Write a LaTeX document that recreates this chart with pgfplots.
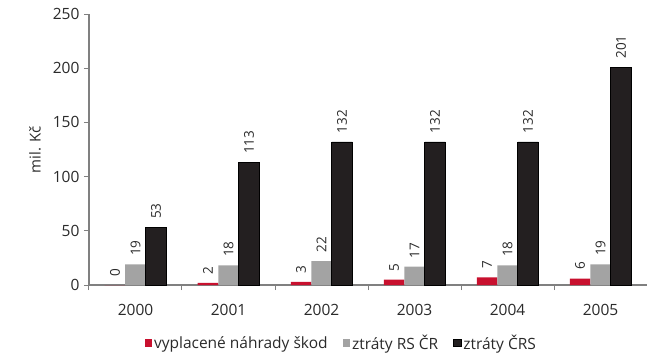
\documentclass[border=0pt]{standalone}
\usepackage{pgfplots}
\pgfplotsset{compat=1.18}
\usepackage{fontspec}
\setmainfont{Open Sans}
\definecolor{cred}{HTML}{C8102E}
\definecolor{cgray}{HTML}{A3A3A3}
\definecolor{cblack}{HTML}{231F20}
\definecolor{axgray}{HTML}{808080}
\definecolor{txt}{HTML}{2A2A2A}
\begin{document}
\begin{tikzpicture}[x=1pt,y=1pt]
\useasboundingbox (-89,-69) rectangle (558,285);
\begin{axis}[
  at={(0,0)}, anchor=south west,
  scale only axis, width=558pt, height=271pt,
  /pgf/number format/assume math mode=true,
  ybar=0pt, bar width=20.5pt,
  xmin=-0.5, xmax=5.5, ymin=0, ymax=250,
  axis x line*=bottom, axis y line*=left,
  axis line style={axgray, line width=1.2pt},
  xtick={0,...,5}, xticklabels={2000,2001,2002,2003,2004,2005},
  major x tick style={draw=none},
  minor xtick={-0.5,0.5,1.5,2.5,3.5,4.5,5.5},
  minor x tick style={axgray, line width=1pt},
  minor tick length=5pt,
  ytick={0,50,...,250},
  y tick style={axgray, line width=1pt},
  major tick length=5pt,
  tick align=outside,
  tick label style={font=\fontsize{15.5}{17}\selectfont, text=txt},
  xticklabel style={yshift=-11pt},
  yticklabel style={xshift=-1pt},
  ylabel={mil. Kč},
  ylabel style={at={(axis description cs:-0.0968,0.5)}, anchor=center, font=\fontsize{15}{17}\selectfont, text=txt},
  nodes near coords,
  every node near coord/.append style={rotate=90, anchor=west, font=\fontsize{13.5}{15}\selectfont, text=txt, xshift=5pt},
  legend columns=3,
  legend style={at={(axis description cs:0.452,-0.214)}, anchor=center, draw=none, fill=none,
    font=\fontsize{15.5}{17}\selectfont, text=txt,
    /tikz/every even column/.append style={column sep=13pt}},
  legend image code/.code={\fill[#1] (0pt,-3.5pt) rectangle (7.5pt,4pt);},
]
\addplot[fill=cred, draw=none] coordinates {(0,0) (1,2) (2,3) (3,5) (4,7) (5,6)};
\addplot[fill=cgray, draw=none] coordinates {(0,19) (1,18) (2,22) (3,17) (4,18) (5,19)};
\addplot[fill=cblack, draw=black, line width=0.6pt] coordinates {(0,53) (1,113) (2,132) (3,132) (4,132) (5,201)};
\legend{vyplacené náhrady škod, ztráty RS ČR, ztráty ČRS}
\end{axis}
\end{tikzpicture}
\end{document}
